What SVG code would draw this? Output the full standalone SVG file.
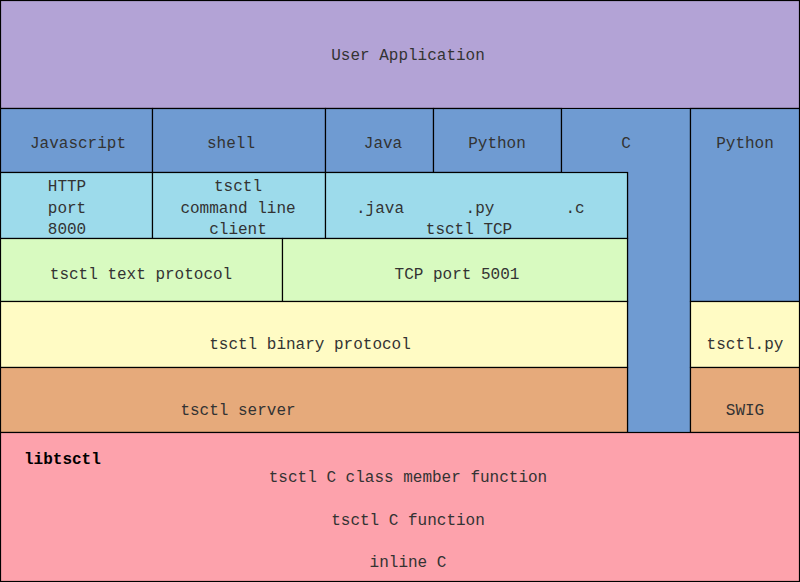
<svg xmlns="http://www.w3.org/2000/svg" width="800" height="582" viewBox="0 0 800 582">
<style>
rect{stroke:#000;stroke-width:1.2}
text{font-family:"Liberation Mono",monospace;font-size:16px;fill:#333;text-anchor:middle}
.pu{fill:#b3a3d6}.bl{fill:#6f9bd2}.lb{fill:#9ddbeb}.gr{fill:#d8fac0}.ye{fill:#fffbc4}.or{fill:#e6aa7b}.pk{fill:#fda2ac}
</style>
<rect width="800" height="582" fill="#fff" stroke="none"/>
<g id="app"><rect class="pu" x="0.5" y="0.5" width="799" height="108"/><text x="408" y="60">User Application</text></g>
<g id="js"><rect class="bl" x="0.5" y="108.5" width="152" height="64"/><text x="78" y="148">Javascript</text></g>
<g id="shell"><rect class="bl" x="152.5" y="108.5" width="173" height="64"/><text x="231" y="148">shell</text></g>
<g id="java"><rect class="bl" x="325.5" y="108.5" width="108" height="64"/><text x="383" y="148">Java</text></g>
<g id="python"><rect class="bl" x="433.5" y="108.5" width="128" height="64"/><text x="497" y="148">Python</text></g>
<g id="c"><path d="M561.5 108.5H690.5V432.5H627.5V172.5H561.5Z" fill="#6f9bd2" stroke="#000" stroke-width="1.2"/><text x="626" y="148">C</text></g>
<g id="python2"><rect class="bl" x="690.5" y="108.5" width="109" height="193"/><text x="745" y="148">Python</text></g>
<g id="http"><rect class="lb" x="0.5" y="172.5" width="152" height="66"/><text x="67" y="191">HTTP</text><text x="67" y="213">port</text><text x="67" y="234">8000</text></g>
<g id="client"><rect class="lb" x="152.5" y="172.5" width="173" height="66"/><text x="238" y="191">tsctl</text><text x="238" y="213">command line</text><text x="238" y="234">client</text></g>
<g id="tcp"><rect class="lb" x="325.5" y="172.5" width="302" height="66"/><text x="380" y="213">.java</text><text x="480" y="213">.py</text><text x="575" y="213">.c</text><text x="469" y="234">tsctl TCP</text></g>
<g id="textp"><rect class="gr" x="0.5" y="238.5" width="282" height="63"/><text x="141" y="279">tsctl text protocol</text></g>
<g id="port"><rect class="gr" x="282.5" y="238.5" width="345" height="63"/><text x="457" y="279">TCP port 5001</text></g>
<g id="bin"><rect class="ye" x="0.5" y="301.5" width="627" height="66"/><text x="310" y="349">tsctl binary protocol</text></g>
<g id="tsctlpy"><rect class="ye" x="690.5" y="301.5" width="109" height="66"/><text x="745" y="349">tsctl.py</text></g>
<g id="server"><rect class="or" x="0.5" y="367.5" width="627" height="65"/><text x="238" y="415">tsctl server</text></g>
<g id="swig"><rect class="or" x="690.5" y="367.5" width="109" height="65"/><text x="745" y="415">SWIG</text></g>
<g id="lib"><rect class="pk" x="0.5" y="432.5" width="799" height="149"/>
<text x="24" y="464" style="text-anchor:start;font-weight:bold;fill:#000">libtsctl</text>
<text x="408" y="482">tsctl C class member function</text>
<text x="408" y="525">tsctl C function</text>
<text x="408" y="567">inline C</text></g>
<g id="connectors"/>
</svg>
